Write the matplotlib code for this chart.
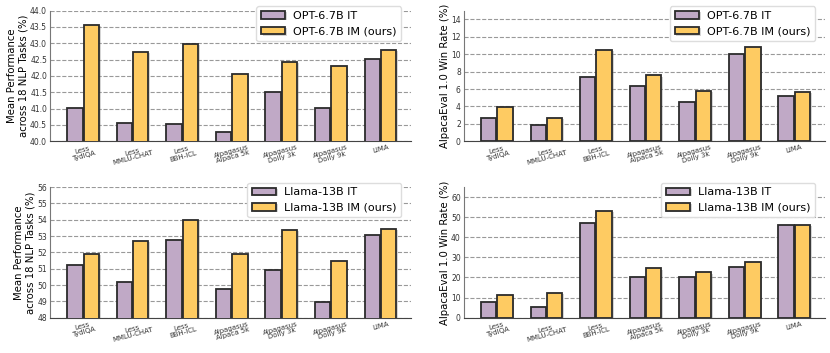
import matplotlib.pyplot as plt
import matplotlib.patheffects as pe
import numpy as np

# categories shared by all four panels
categories = ['Less\nTydIQA', 'Less\nMMLU-CHAT', 'Less\nBBH-ICL', 'Alpagasus\nAlpaca 5k',
              'Alpagasus\nDolly 3k', 'Alpagasus\nDolly 9k', 'LIMA']

# OPT-6.7B, mean performance across 18 NLP tasks
opt_nlp_it = [41.03, 40.57, 40.52, 40.28, 41.52, 41.03, 42.53]
opt_nlp_im = [43.55, 42.73, 42.98, 42.05, 42.43, 42.30, 42.80]

# OPT-6.7B, AlpacaEval 1.0 win rate
opt_win_it = [2.7, 1.85, 7.4, 6.4, 4.55, 10.05, 5.25]
opt_win_im = [3.9, 2.7, 10.5, 7.55, 5.8, 10.85, 5.65]

# Llama-13B, mean performance across 18 NLP tasks
llama_nlp_it = [51.25, 50.2, 52.75, 49.78, 50.9, 48.95, 53.08]
llama_nlp_im = [51.9, 52.7, 53.98, 51.93, 53.35, 51.45, 53.45]

# Llama-13B, AlpacaEval 1.0 win rate
llama_win_it = [8.0, 5.3, 47.0, 20.0, 20.0, 25.0, 46.2]
llama_win_im = [11.5, 12.3, 53.2, 24.5, 22.5, 27.8, 46.3]

panels = [
    (opt_nlp_it, opt_nlp_im, 'OPT-6.7B', 'Mean Performance\nacross 18 NLP Tasks (%)',
     (40, 44), np.arange(40, 44.01, 0.5), '%.1f'),
    (opt_win_it, opt_win_im, 'OPT-6.7B', 'AlpacaEval 1.0 Win Rate (%)',
     (0, 15), np.arange(0, 15, 2), '%d'),
    (llama_nlp_it, llama_nlp_im, 'Llama-13B', 'Mean Performance\nacross 18 NLP Tasks (%)',
     (48, 56), np.arange(48, 57, 1), '%d'),
    (llama_win_it, llama_win_im, 'Llama-13B', 'AlpacaEval 1.0 Win Rate (%)',
     (0, 65), np.arange(0, 61, 10), '%d'),
]

purple = '#c0a9c6'
yellow = '#fecb62'
edge = '#2b2b2b'
shadow = [pe.SimplePatchShadow(offset=(1.2, -0.8), shadow_rgbFace='#888888', alpha=0.35), pe.Normal()]

fig, axes = plt.subplots(2, 2, figsize=(8.3, 3.53), dpi=100)
plt.subplots_adjust(left=0.06, right=0.994, top=0.97, bottom=0.1, wspace=0.145, hspace=0.35)

x = np.arange(len(categories))
w = 0.31
for ax, (it, im, model, ylabel, ylim, yticks, fmt) in zip(axes.flat, panels):
    b1 = ax.bar(x - 0.165, it, w, color=purple, edgecolor=edge, linewidth=1.3,
                label=model + ' IT', zorder=3)
    b2 = ax.bar(x + 0.165, im, w, color=yellow, edgecolor=edge, linewidth=1.3,
                label=model + ' IM (ours)', zorder=3)
    for p in list(b1) + list(b2):
        p.set_path_effects(shadow)
    ax.set_ylim(*ylim)
    ax.set_xlim(-0.67, 6.62)
    ax.set_yticks(yticks)
    ax.set_yticklabels([fmt % v for v in yticks], fontsize=5.5, color='#333333')
    ax.set_xticks(x)
    ax.set_xticklabels(categories, fontsize=5, rotation=15, linespacing=0.95, color='#333333')
    ax.tick_params(axis='both', length=0, pad=2)
    ax.set_ylabel(ylabel, fontsize=7.3, labelpad=1)
    ax.yaxis.grid(True, color='#999999', linestyle='--', linewidth=0.8, zorder=0)
    ax.spines['top'].set_visible(False)
    ax.spines['right'].set_visible(False)
    ax.spines['left'].set_color('#777777')
    ax.spines['bottom'].set_color('#444444')
    leg = ax.legend(loc='upper right', bbox_to_anchor=(0.975, 1.04), fontsize=8,
                    handlelength=2.2, borderaxespad=0.1, framealpha=1,
                    edgecolor='#dddddd', handletextpad=0.7)
    leg.set_zorder(5)

plt.savefig('out.png', dpi=100)
